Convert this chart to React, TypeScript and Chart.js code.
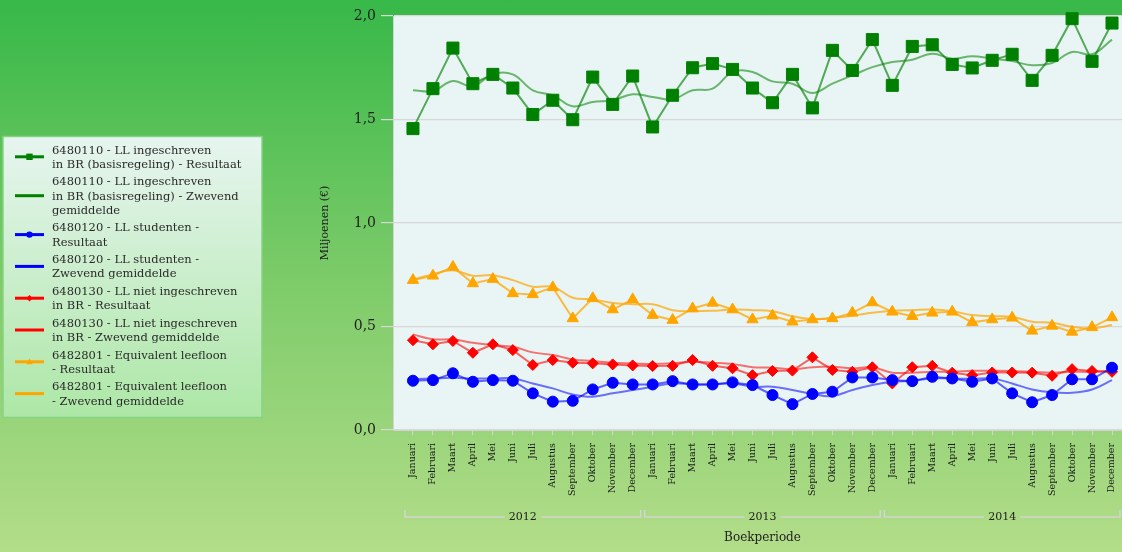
import React, { useEffect, useRef } from 'react';
import { Chart, registerables } from 'chart.js';

Chart.register(...registerables);

const FONT = '"DejaVu Serif", "Liberation Serif", serif';

const MONTHS = ['Januari', 'Februari', 'Maart', 'April', 'Mei', 'Juni', 'Juli', 'Augustus', 'September', 'Oktober', 'November', 'December'];
const YEARS = ['2012', '2013', '2014'];
const Y_TICKS = [0, 0.5, 1, 1.5, 2];

const GREEN_RES = [1.456, 1.649, 1.845, 1.673, 1.718, 1.652, 1.524, 1.593, 1.499, 1.705, 1.573, 1.710, 1.464, 1.617, 1.750, 1.770, 1.742, 1.652, 1.581, 1.718, 1.556, 1.834, 1.737, 1.886, 1.665, 1.853, 1.861, 1.766, 1.749, 1.786, 1.815, 1.689, 1.810, 1.987, 1.781, 1.966];
const GREEN_MA = [1.641, 1.638, 1.686, 1.660, 1.720, 1.718, 1.641, 1.617, 1.564, 1.585, 1.593, 1.622, 1.609, 1.598, 1.641, 1.649, 1.729, 1.729, 1.684, 1.673, 1.628, 1.673, 1.713, 1.753, 1.778, 1.789, 1.818, 1.794, 1.806, 1.794, 1.782, 1.762, 1.773, 1.826, 1.815, 1.886];
const BLUE_RES = [0.238, 0.241, 0.274, 0.233, 0.241, 0.238, 0.177, 0.137, 0.141, 0.196, 0.228, 0.220, 0.220, 0.236, 0.220, 0.220, 0.230, 0.217, 0.169, 0.125, 0.174, 0.185, 0.254, 0.254, 0.241, 0.236, 0.257, 0.249, 0.233, 0.249, 0.177, 0.134, 0.169, 0.245, 0.245, 0.301];
const BLUE_MA = [0.245, 0.249, 0.252, 0.249, 0.249, 0.249, 0.225, 0.201, 0.172, 0.161, 0.177, 0.193, 0.209, 0.225, 0.220, 0.220, 0.225, 0.209, 0.209, 0.193, 0.174, 0.164, 0.193, 0.217, 0.233, 0.238, 0.249, 0.249, 0.247, 0.249, 0.225, 0.196, 0.182, 0.180, 0.196, 0.241];
const RED_RES = [0.434, 0.414, 0.430, 0.373, 0.414, 0.386, 0.314, 0.338, 0.325, 0.322, 0.317, 0.312, 0.309, 0.310, 0.338, 0.310, 0.298, 0.265, 0.285, 0.287, 0.351, 0.290, 0.281, 0.303, 0.225, 0.303, 0.310, 0.277, 0.265, 0.278, 0.278, 0.277, 0.262, 0.294, 0.285, 0.281];
const RED_MA = [0.462, 0.438, 0.438, 0.421, 0.410, 0.402, 0.375, 0.362, 0.341, 0.333, 0.325, 0.322, 0.319, 0.322, 0.330, 0.325, 0.319, 0.303, 0.301, 0.293, 0.303, 0.306, 0.298, 0.303, 0.277, 0.277, 0.281, 0.281, 0.286, 0.286, 0.285, 0.281, 0.277, 0.281, 0.281, 0.286];
const ORANGE_RES = [0.724, 0.745, 0.788, 0.708, 0.729, 0.660, 0.655, 0.689, 0.539, 0.636, 0.582, 0.631, 0.555, 0.531, 0.587, 0.614, 0.582, 0.534, 0.552, 0.523, 0.534, 0.539, 0.566, 0.616, 0.571, 0.550, 0.566, 0.571, 0.520, 0.534, 0.542, 0.479, 0.503, 0.474, 0.496, 0.544];
const ORANGE_MA = [0.727, 0.753, 0.772, 0.745, 0.748, 0.724, 0.692, 0.692, 0.639, 0.631, 0.614, 0.608, 0.608, 0.579, 0.574, 0.576, 0.582, 0.579, 0.574, 0.550, 0.536, 0.542, 0.552, 0.566, 0.576, 0.579, 0.582, 0.574, 0.555, 0.550, 0.547, 0.523, 0.518, 0.499, 0.491, 0.507];

const LEGEND_LINES = [
  ['6480110 - LL ingeschreven', 'in BR (basisregeling) - Resultaat'],
  ['6480110 - LL ingeschreven', 'in BR (basisregeling) - Zwevend', 'gemiddelde'],
  ['6480120 - LL studenten -', 'Resultaat'],
  ['6480120 - LL studenten -', 'Zwevend gemiddelde'],
  ['6480130 - LL niet ingeschreven', 'in BR - Resultaat'],
  ['6480130 - LL niet ingeschreven', 'in BR - Zwevend gemiddelde'],
  ['6482801 - Equivalent leefloon', '- Resultaat'],
  ['6482801 - Equivalent leefloon', '- Zwevend gemiddelde'],
];

const PERIODS = YEARS.flatMap((y) => MONTHS.map((m) => `${m} ${y}`));
const toXY = (arr: number[]) => arr.map((v, i) => ({ x: i, y: v }));

const SERIES = [
  { vals: GREEN_RES, color: '#008000', line: 'rgba(0,128,0,0.65)', style: 'rect', radius: 8.5, ma: false },
  { vals: GREEN_MA, color: '#008000', line: 'rgba(0,128,0,0.55)', style: 'none', radius: 0, ma: true },
  { vals: BLUE_RES, color: '#0000ff', line: 'rgba(0,0,255,0.6)', style: 'circle', radius: 5.5, ma: false },
  { vals: BLUE_MA, color: '#0000ff', line: 'rgba(0,0,255,0.55)', style: 'none', radius: 0, ma: true },
  { vals: RED_RES, color: '#ff0000', line: 'rgba(255,0,0,0.6)', style: 'rectRot', radius: 5.5, ma: false },
  { vals: RED_MA, color: '#ff0000', line: 'rgba(255,0,0,0.55)', style: 'none', radius: 0, ma: true },
  { vals: ORANGE_RES, color: '#ffa500', line: 'rgba(255,165,0,0.75)', style: 'triangle', radius: 6.5, ma: false },
  { vals: ORANGE_MA, color: '#ffa500', line: 'rgba(255,165,0,0.7)', style: 'none', radius: 0, ma: true },
];

function drawMarker(ctx: CanvasRenderingContext2D, style: string, x: number, y: number, r: number) {
  ctx.beginPath();
  if (style === 'rect') {
    ctx.rect(x - r, y - r, 2 * r, 2 * r);
  } else if (style === 'circle') {
    ctx.arc(x, y, r, 0, Math.PI * 2);
  } else if (style === 'rectRot') {
    ctx.moveTo(x, y - r); ctx.lineTo(x + r, y); ctx.lineTo(x, y + r); ctx.lineTo(x - r, y); ctx.closePath();
  } else if (style === 'triangle') {
    ctx.moveTo(x, y - r); ctx.lineTo(x + r, y + r * 0.8); ctx.lineTo(x - r, y + r * 0.8); ctx.closePath();
  }
  ctx.fill();
}

const decorPlugin = {
  id: 'decor',
  beforeDraw(chart: any) {
    const { ctx, chartArea: a } = chart;
    ctx.save();
    ctx.fillStyle = '#e8f5f4';
    ctx.fillRect(a.left, a.top, a.right - a.left, a.bottom - a.top);
    ctx.restore();
  },
  afterDraw(chart: any) {
    const { ctx, chartArea: a } = chart;
    const xs = chart.scales.x;
    ctx.save();
    // year brackets
    const yB = a.bottom + 87;
    ctx.strokeStyle = '#d4d4d4';
    ctx.lineWidth = 1.5;
    ctx.font = `11px ${FONT}`;
    ctx.fillStyle = '#222';
    ctx.textAlign = 'center';
    ctx.textBaseline = 'middle';
    YEARS.forEach((yr, g) => {
      const x0 = xs.getPixelForValue(g * 12 - 0.5) + 2;
      const x1 = xs.getPixelForValue(g * 12 + 11.5) - 2;
      const cx = (x0 + x1) / 2;
      const hw = ctx.measureText(yr).width / 2 + 4;
      ctx.beginPath();
      ctx.moveTo(x0, yB - 7); ctx.lineTo(x0, yB); ctx.lineTo(cx - hw, yB);
      ctx.moveTo(cx + hw, yB); ctx.lineTo(x1, yB); ctx.lineTo(x1, yB - 7);
      ctx.stroke();
      ctx.fillText(yr, cx, yB);
    });
    // x title
    ctx.font = `12px ${FONT}`;
    ctx.fillText('Boekperiode', xs.getPixelForValue(17.5), a.bottom + 108);
    // y title
    ctx.save();
    ctx.translate(a.left - 68, (a.top + a.bottom) / 2);
    ctx.rotate(-Math.PI / 2);
    ctx.font = `11px ${FONT}`;
    ctx.fillText('Miljoenen (€)', 0, 0);
    ctx.restore();

    // legend box
    const lx = 3, ly = 136.5, lw = 259, lh = 281;
    const grad = ctx.createLinearGradient(0, ly, 0, ly + lh);
    grad.addColorStop(0, '#e7f5f0');
    grad.addColorStop(1, '#ade7a6');
    ctx.fillStyle = grad;
    ctx.fillRect(lx, ly, lw, lh);
    ctx.strokeStyle = '#86d283';
    ctx.lineWidth = 1.5;
    ctx.strokeRect(lx, ly, lw, lh);

    const lineH = 14.2;
    const gap = 3.4;
    let ty = 150.7;
    ctx.font = `11.5px ${FONT}`;
    ctx.textAlign = 'left';
    ctx.textBaseline = 'middle';
    SERIES.forEach((s, i) => {
      const lines = LEGEND_LINES[i];
      const mid = ty + ((lines.length - 1) * lineH) / 2 - 1;
      ctx.strokeStyle = s.color;
      ctx.lineWidth = 3;
      ctx.beginPath();
      ctx.moveTo(15, mid); ctx.lineTo(44, mid);
      ctx.stroke();
      if (!s.ma) {
        ctx.fillStyle = s.color;
        drawMarker(ctx, s.style, 29.5, mid, 3.2);
      }
      ctx.fillStyle = '#2a2a2a';
      lines.forEach((t, k) => ctx.fillText(t, 52, ty + k * lineH));
      ty += lines.length * lineH + gap;
    });
    ctx.restore();
  },
};

export default function App() {
  const ref = useRef<HTMLCanvasElement | null>(null);

  useEffect(() => {
    if (!ref.current) return;
    const datasets = SERIES.map((s, i) => ({
      label: LEGEND_LINES[i].join(' '),
      data: toXY(s.vals),
      borderColor: s.line,
      backgroundColor: s.color,
      borderWidth: 2,
      tension: s.ma ? 0.4 : 0,
      pointStyle: s.ma ? false : (s.style as any),
      pointRadius: s.radius,
      pointBackgroundColor: s.color,
      pointBorderColor: s.color,
      pointBorderWidth: 1,
      pointHoverRadius: s.radius,
      order: s.ma ? 2 : 1,
      clip: 12,
    }));

    const chart = new Chart(ref.current, {
      type: 'line',
      data: { datasets },
      options: {
        animation: false,
        responsive: false,
        maintainAspectRatio: false,
        layout: { autoPadding: false, padding: { top: 16, right: 0, bottom: 0, left: 0 } },
        plugins: { legend: { display: false }, tooltip: { enabled: false } },
        scales: {
          x: {
            type: 'linear',
            min: -1,
            max: 35.5,
            afterBuildTicks: (scale: any) => {
              scale.ticks = PERIODS.map((_, i) => ({ value: i }));
            },
            afterFit: (scale: any) => {
              scale.height = 122;
              scale.paddingRight = 0;
              scale.paddingLeft = 0;
            },
            ticks: {
              autoSkip: false,
              minRotation: 90,
              maxRotation: 90,
              padding: 8,
              color: '#1a1a1a',
              font: { family: FONT, size: 9.5 },
              callback: (v: any) => {
                const i = Math.round(Number(v));
                return i >= 0 && i < PERIODS.length ? MONTHS[i % 12] : '';
              },
            },
            grid: {
              drawOnChartArea: false,
              drawTicks: true,
              tickLength: 5,
              color: '#d4d4d4',
            },
            border: { display: true, color: '#d4d4d4' },
          },
          y: {
            min: 0,
            max: 2,
            afterBuildTicks: (scale: any) => {
              scale.ticks = Y_TICKS.map((v) => ({ value: v }));
            },
            afterFit: (scale: any) => {
              scale.width = 393;
            },
            ticks: {
              padding: 5,
              color: '#222',
              font: { family: FONT, size: 14 },
              callback: (v: any) => Number(v).toFixed(1).replace('.', ','),
            },
            grid: { color: '#d8d8d8', tickLength: 12, lineWidth: 1.2 },
            border: { display: true, color: '#d4d4d4' },
          },
        },
      },
      plugins: [decorPlugin],
    });
    return () => chart.destroy();
  }, []);

  return (
    <div
      style={{
        position: 'absolute',
        left: 0,
        top: 0,
        width: 1122,
        height: 552,
        background: 'linear-gradient(to bottom, #37b848 0%, #7ccb69 50%, #b3dd89 100%)',
      }}
    >
      <canvas ref={ref} width={1122} height={552} style={{ display: 'block', width: 1122, height: 552 }} />
    </div>
  );
}
